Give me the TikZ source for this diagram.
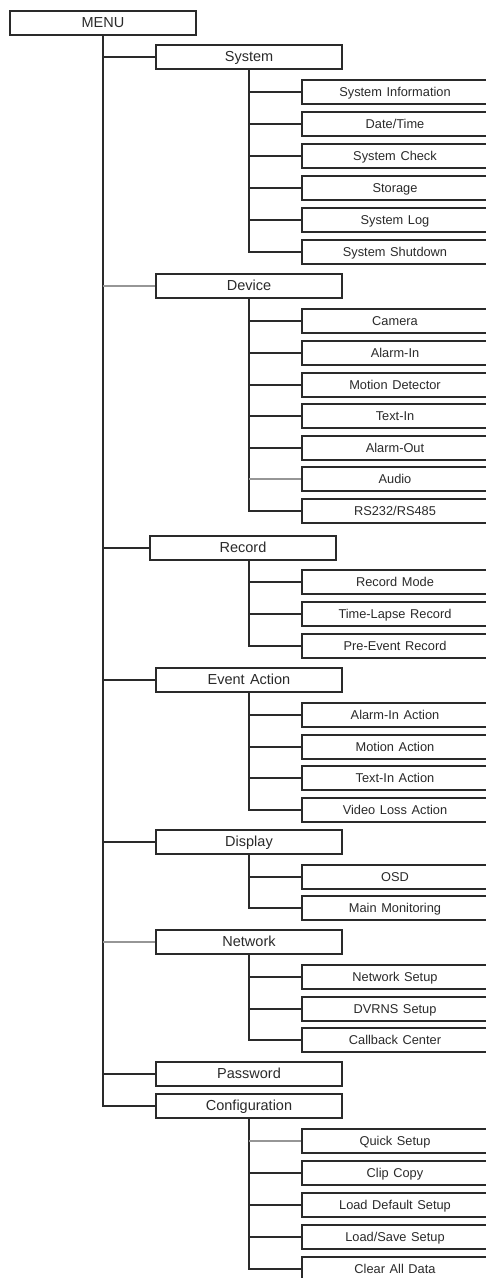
\documentclass[tikz,border=0pt]{standalone}
\usepackage{fontspec}
\setmainfont[WordSpace=1.3]{Liberation Sans}
\usetikzlibrary{positioning}
\definecolor{ink}{RGB}{42,42,42}
\definecolor{faint}{RGB}{150,150,150}
\tikzset{
  menubox/.style={rectangle,draw=ink,line width=1.5pt,fill=white,text=ink,
    minimum width=186pt,minimum height=24pt,inner sep=0pt,
    text height=10.5pt,text depth=1.1pt,
    font=\fontsize{14.5}{16}\selectfont},
  itembox/.style={menubox,text height=9.3pt,text depth=0.7pt,
    font=\fontsize{12.8}{14}\selectfont},
  link/.style={draw=ink,line width=1.3pt},
  greylink/.style={draw=faint,line width=1.1pt}
}

\begin{document}
\begin{tikzpicture}[x=1pt,y=-1pt]
\useasboundingbox (0,0) rectangle (485,1278);
% ---------------- top and first level ----------------
\node[menubox] (menu) at (103,23) {MENU};
\node[menubox] (sys) at (249,57)   {System};
\node[menubox] (dev) at (249,286)  {Device};
\node[menubox] (rec) at (243,548)  {Record};
\node[menubox] (evt) at (249,680)  {Event Action};
\node[menubox] (disp) at (249,842) {Display};
\node[menubox] (net) at (249,942)  {Network};
\node[menubox] (pwd) at (249,1074) {Password};
\node[menubox] (cfg) at (249,1106) {Configuration};
% ---------------- second level ----------------
\node[itembox] (sinfo) at (395,92)  {System Information};
\node[itembox] (sdate) at (395,124) {Date/Time};
\node[itembox] (schk) at (395,156)  {System Check};
\node[itembox] (sstor) at (395,188) {Storage};
\node[itembox] (slog) at (395,220)  {System Log};
\node[itembox] (sshut) at (395,252) {System Shutdown};
\node[itembox] (dcam) at (395,321)  {Camera};
\node[itembox] (dain) at (395,353)  {Alarm-In};
\node[itembox] (dmot) at (395,385)  {Motion Detector};
\node[itembox] (dtxt) at (395,416)  {Text-In};
\node[itembox] (daout) at (395,448) {Alarm-Out};
\node[itembox] (daud) at (395,479)  {Audio};
\node[itembox] (drs) at (395,511)   {RS232/RS485};
\node[itembox] (rmode) at (395,582) {Record Mode};
\node[itembox] (rlapse) at (395,614) {Time-Lapse Record};
\node[itembox] (rpre) at (395,646)  {Pre-Event Record};
\node[itembox] (eain) at (395,715)  {Alarm-In Action};
\node[itembox] (emot) at (395,747)  {Motion Action};
\node[itembox] (etxt) at (395,778)  {Text-In Action};
\node[itembox] (eloss) at (395,810) {Video Loss Action};
\node[itembox] (dosd) at (395,877)  {OSD};
\node[itembox] (dmain) at (395,908) {Main Monitoring};
\node[itembox] (nset) at (395,977)  {Network Setup};
\node[itembox] (ndns) at (395,1009) {DVRNS Setup};
\node[itembox] (ncb) at (395,1040)  {Callback Center};
\node[itembox] (cquick) at (395,1141) {Quick Setup};
\node[itembox] (cclip) at (395,1173)  {Clip Copy};
\node[itembox] (cload) at (395,1205)  {Load Default Setup};
\node[itembox] (csave) at (395,1237)  {Load/Save Setup};
\node[itembox] (cclear) at (395,1269) {Clear All Data};
\coordinate (rtop) at (249,560);
% ---------------- main trunk ----------------
\draw[link] (menu.south) |- (cfg.west);
\foreach \n in {sys,rec,evt,disp,pwd}
  \draw[link] (menu.south |- \n.west) -- (\n.west);
\foreach \n in {dev,net}
  \draw[greylink] (menu.south |- \n.west) -- (\n.west);
% ---------------- sub trunks ----------------
\draw[link] (sys.south) |- (sshut.west);
\foreach \n in {sinfo,sdate,schk,sstor,slog}
  \draw[link] (sys.south |- \n.west) -- (\n.west);
\draw[link] (dev.south) |- (drs.west);
\foreach \n in {dcam,dain,dmot,dtxt,daout}
  \draw[link] (dev.south |- \n.west) -- (\n.west);
\draw[greylink] (dev.south |- daud.west) -- (daud.west);
\draw[link] (rtop) |- (rpre.west);
\foreach \n in {rmode,rlapse}
  \draw[link] (rtop |- \n.west) -- (\n.west);
\draw[link] (evt.south) |- (eloss.west);
\foreach \n in {eain,emot,etxt}
  \draw[link] (evt.south |- \n.west) -- (\n.west);
\draw[link] (disp.south) |- (dmain.west);
\draw[link] (disp.south |- dosd.west) -- (dosd.west);
\draw[link] (net.south) |- (ncb.west);
\foreach \n in {nset,ndns}
  \draw[link] (net.south |- \n.west) -- (\n.west);
\draw[link] (cfg.south) |- (cclear.west);
\foreach \n in {cclip,cload,csave}
  \draw[link] (cfg.south |- \n.west) -- (\n.west);
\draw[greylink] (cfg.south |- cquick.west) -- (cquick.west);
\end{tikzpicture}
\end{document}
